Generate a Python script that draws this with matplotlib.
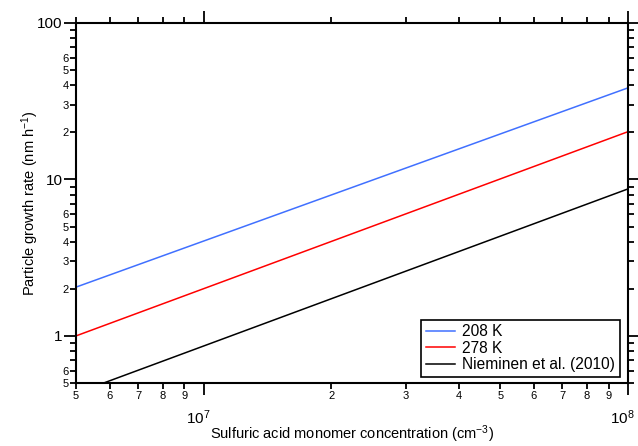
import matplotlib
matplotlib.use('Agg')
import matplotlib.pyplot as plt
import matplotlib.ticker as mticker
import matplotlib.transforms as mtransforms
import numpy as np

# Data
conc = [5e6, 1e8]
gr_208 = [2.05, 38.5]
gr_278 = [1.0, 20.2]
gr_nieminen = [0.43, 8.7]
series_labels = ['208 K', '278 K', 'Nieminen et al. (2010)']

plt.rcParams['font.family'] = ['Liberation Sans', 'DejaVu Sans']
plt.rcParams['mathtext.fontset'] = 'custom'
plt.rcParams['mathtext.rm'] = 'Liberation Sans'
plt.rcParams['mathtext.it'] = 'Liberation Sans:italic'

fig = plt.figure(figsize=(6.38, 4.46), dpi=100)
ax = fig.add_axes([76 / 638, 1 - 383 / 446, 552 / 638, 360 / 446])

ax.plot(conc, gr_208, color='#4070ff', linewidth=1.1, label=series_labels[0])
ax.plot(conc, gr_278, color='#ff0000', linewidth=1.1, label=series_labels[1])
ax.plot(conc, gr_nieminen, color='black', linewidth=1.1, label=series_labels[2])

ax.set_xscale('log')
ax.set_yscale('log')
ax.set_xlim(5e6, 1e8)
ax.set_ylim(0.5, 100)

# x ticks
ax.xaxis.set_major_locator(mticker.FixedLocator([1e7, 1e8]))
ax.xaxis.set_major_formatter(mticker.FixedFormatter(['$10^{7}$', '$10^{8}$']))
x_minor = [m * 10 ** e for e in (6, 7) for m in range(2, 10)]
ax.xaxis.set_minor_locator(mticker.FixedLocator(x_minor))
ax.xaxis.set_minor_formatter(mticker.FuncFormatter(
    lambda v, p: '%d' % round(v / 10 ** np.floor(np.log10(v)))))

# y ticks
ax.yaxis.set_major_locator(mticker.FixedLocator([1, 10, 100]))
ax.yaxis.set_major_formatter(mticker.FixedFormatter(['1', '10', '100']))
y_minor = [m * 10 ** e for e in (-1, 0, 1) for m in range(2, 10)]
ax.yaxis.set_minor_locator(mticker.FixedLocator(y_minor))


def y_minor_fmt(v, p):
    m = round(v / 10 ** np.floor(np.log10(v) + 1e-9))
    return '%d' % m if m <= 6 else ''


ax.yaxis.set_minor_formatter(mticker.FuncFormatter(y_minor_fmt))

for s in ax.spines.values():
    s.set_linewidth(1.5)

ax.tick_params(which='both', direction='out', top=True, right=True,
               width=1.3, color='black')
ax.tick_params(which='minor', length=4, labelsize=8, pad=2)
ax.tick_params(which='major', length=8.5, labelsize=11)
ax.tick_params(axis='x', which='major', pad=10)
ax.tick_params(axis='y', which='major', pad=1)
ax.tick_params(axis='y', which='minor', pad=1)

# the 10^n labels sit a little right-aligned on their ticks
offset = mtransforms.ScaledTranslation(7 / 100, 0, fig.dpi_scale_trans)
for lbl in ax.xaxis.get_majorticklabels():
    lbl.set_horizontalalignment('right')
    lbl.set_transform(lbl.get_transform() + offset)

ax.set_xlabel('Sulfuric acid monomer concentration (cm$^{-3}$)', fontsize=10.5)
ax.set_ylabel('Particle growth rate (nm h$^{-1}$)', fontsize=10.5)
ax.xaxis.set_label_coords(0.5, -0.142)
ax.yaxis.set_label_coords(-0.083, 0.5)
ax.xaxis.label.set_va('center')
ax.yaxis.label.set_va('center')

leg = ax.legend(loc='lower right', bbox_to_anchor=(0.9855, 0.0167),
                borderaxespad=0, fontsize=11.2, fancybox=False,
                handlelength=1.9, handletextpad=0.45, labelspacing=0.1,
                borderpad=0.3, framealpha=1)
leg.get_frame().set_edgecolor('black')
leg.get_frame().set_linewidth(1.2)

fig.savefig('out.png', dpi=100)
